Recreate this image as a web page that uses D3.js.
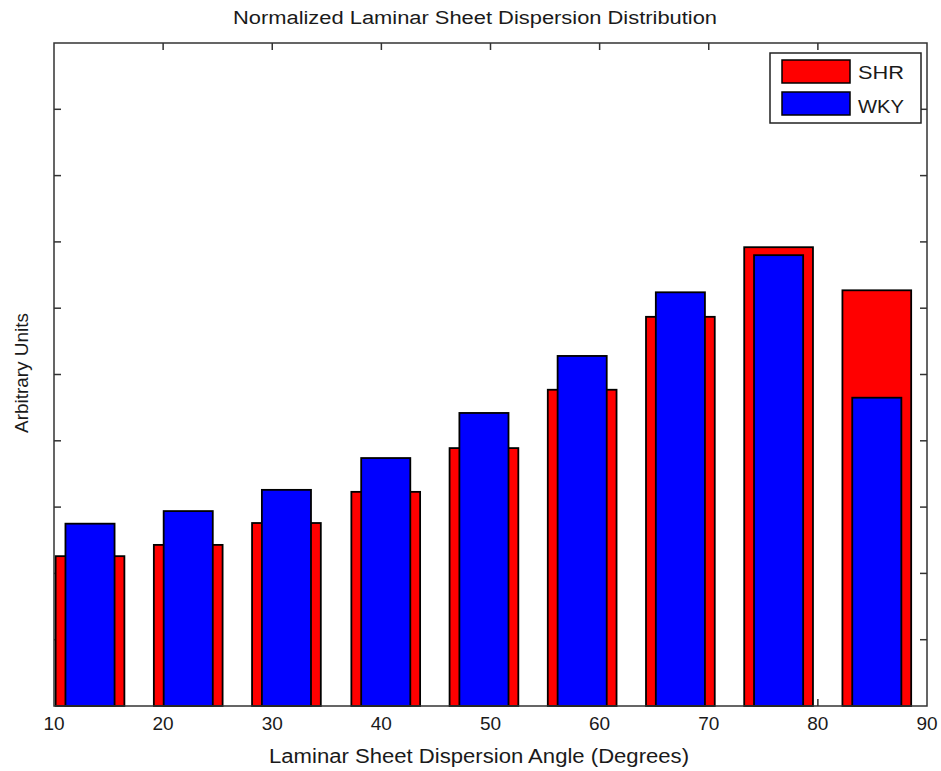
<!DOCTYPE html>
<html>
<head>
<meta charset="utf-8">
<script src="https://cdn.jsdelivr.net/npm/d3@7"></script>
<style>
  body { margin: 0; background: #fff; }
  text { font-family: "Liberation Sans", Arial, sans-serif; fill: #1a1a1a; }
</style>
</head>
<body>
<script>
// bin centres (degrees) and normalized heights
var binCenters = [13.3, 22.3, 31.3, 40.4, 49.4, 58.4, 67.4, 76.4, 85.4];
var shrValues  = [2.26, 2.43, 2.76, 3.23, 3.89, 4.77, 5.87, 6.92, 6.27];
var wkyValues  = [2.75, 2.94, 3.26, 3.74, 4.42, 5.28, 6.24, 6.80, 4.65];
var xTicks = [10, 20, 30, 40, 50, 60, 70, 80, 90];
var yTicks = [0, 1, 2, 3, 4, 5, 6, 7, 8, 9, 10];
var seriesNames = ["SHR", "WKY"];
var seriesColors = ["#ff0000", "#0000ff"];

var width = 941, height = 771;
// plot box edges (note: "top" is reserved on window, so use a prefix)
var pLeft = 54, pRight = 927, pTop = 43, pBottom = 706;

var x = d3.scaleLinear().domain([10, 90]).range([pLeft, pRight]);
var y = d3.scaleLinear().domain([0, 10]).range([pBottom, pTop]);

var svg = d3.select("body").append("svg")
  .attr("width", width)
  .attr("height", height);

var tickLen = 7;

// ticks (drawn first so the bars cover them, like the original)
var ticks = svg.append("g").attr("stroke", "#333").attr("stroke-width", 1.5);
xTicks.slice(1, -1).forEach(function (t) {
  ticks.append("line").attr("x1", x(t)).attr("x2", x(t)).attr("y1", pBottom).attr("y2", pBottom - tickLen);
  ticks.append("line").attr("x1", x(t)).attr("x2", x(t)).attr("y1", pTop).attr("y2", pTop + tickLen);
});
yTicks.slice(1, -1).forEach(function (t) {
  ticks.append("line").attr("x1", pLeft).attr("x2", pLeft + tickLen).attr("y1", y(t)).attr("y2", y(t));
  ticks.append("line").attr("x1", pRight).attr("x2", pRight - tickLen).attr("y1", y(t)).attr("y2", y(t));
});

// bars: SHR wide, WKY narrow on top
function drawBars(values, color, w) {
  svg.append("g").selectAll("rect").data(values).enter().append("rect")
    .attr("x", function (d, i) { return x(binCenters[i] - w / 2); })
    .attr("width", function () { return x(w) - x(0); })
    .attr("y", function (d) { return y(d); })
    .attr("height", function (d) { return y(0) - y(d); })
    .attr("fill", color)
    .attr("stroke", "#000")
    .attr("stroke-width", 1.8);
}
drawBars(shrValues, seriesColors[0], 6.3);
drawBars(wkyValues, seriesColors[1], 4.5);

// axes box
svg.append("rect")
  .attr("x", pLeft).attr("y", pTop)
  .attr("width", pRight - pLeft).attr("height", pBottom - pTop)
  .attr("fill", "none").attr("stroke", "#333").attr("stroke-width", 1.5);

// x tick labels
svg.append("g").selectAll("text").data(xTicks).enter().append("text")
  .attr("x", function (d) { return x(d); })
  .attr("y", 730)
  .attr("text-anchor", "middle")
  .attr("font-size", 19)
  .text(function (d) { return d; });

// title and axis labels (matlab's font is wide, so stretch to its widths)
svg.append("text").attr("x", 475).attr("y", 24)
  .attr("text-anchor", "middle").attr("font-size", 18)
  .attr("textLength", 484).attr("lengthAdjust", "spacingAndGlyphs")
  .text("Normalized Laminar Sheet Dispersion Distribution");
svg.append("text").attr("x", 479).attr("y", 763)
  .attr("text-anchor", "middle").attr("font-size", 20)
  .attr("textLength", 420).attr("lengthAdjust", "spacingAndGlyphs")
  .text("Laminar Sheet Dispersion Angle (Degrees)");
svg.append("text")
  .attr("transform", "translate(28,373) rotate(-90)")
  .attr("text-anchor", "middle").attr("font-size", 18)
  .attr("textLength", 120).attr("lengthAdjust", "spacingAndGlyphs")
  .text("Arbitrary Units");

// legend
var lg = svg.append("g").attr("transform", "translate(770,53)");
lg.append("rect").attr("width", 151).attr("height", 70)
  .attr("fill", "#fff").attr("stroke", "#222").attr("stroke-width", 1.5);
seriesNames.forEach(function (name, i) {
  lg.append("rect").attr("x", 12).attr("y", 7 + i * 32).attr("width", 68).attr("height", 23)
    .attr("fill", seriesColors[i]).attr("stroke", "#000").attr("stroke-width", 1.5);
  lg.append("text").attr("x", 88).attr("y", 26 + i * 34)
    .attr("font-size", 19)
    .attr("textLength", 46).attr("lengthAdjust", "spacingAndGlyphs")
    .text(name);
});
</script>
</body>
</html>
